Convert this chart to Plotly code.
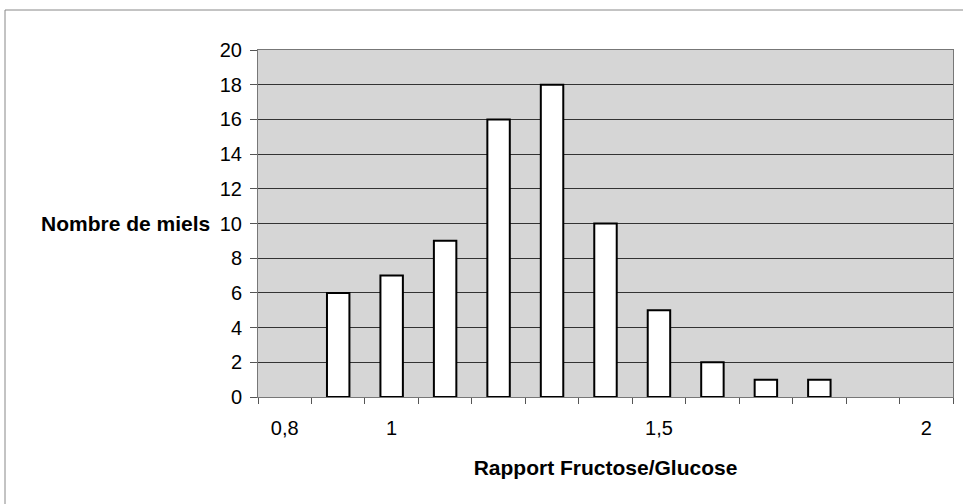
import plotly.graph_objects as go

categories = ["0,8", "0,9", "1", "1,1", "1,2", "1,3", "1,4", "1,5", "1,6", "1,7", "1,8", "1,9", "2"]
tick_labels = ["0,8", "", "1", "", "", "", "", "1,5", "", "", "", "", "2"]
counts = [0, 6, 7, 9, 16, 18, 10, 5, 2, 1, 1, 0, 0]
y_ticks = [0, 2, 4, 6, 8, 10, 12, 14, 16, 18, 20]

FONT = "Liberation Sans, Arial, sans-serif"

fig = go.Figure(go.Bar(
    x=categories, y=[c if c > 0 else None for c in counts],
    marker=dict(color="white", line=dict(color="black", width=2)),
    width=0.42,
))

fig.update_layout(
    width=963, height=504,
    margin=dict(l=258, r=10, t=50, b=107),
    paper_bgcolor="white", plot_bgcolor="#d6d6d6",
    font=dict(family=FONT, size=20, color="black"),
    showlegend=False,
    xaxis=dict(
        type="category", tickmode="array", tickvals=categories, ticktext=tick_labels,
        tickson="boundaries", ticks="outside", ticklen=6, tickcolor="#555",
        showgrid=False, showline=True, linecolor="#777", linewidth=1, mirror=True,
        tickfont=dict(size=20), ticklabelstandoff=13,
        title=dict(text="<b>Rapport Fructose/Glucose</b>", font=dict(size=21), standoff=22),
    ),
    yaxis=dict(
        range=[0, 20], tickvals=y_ticks, ticks="outside", ticklen=7, tickcolor="#555",
        showgrid=True, gridcolor="#333333", gridwidth=1,
        showline=True, linecolor="#777", linewidth=1, mirror=True,
        tickfont=dict(size=20), zeroline=False, ticklabelstandoff=4,
    ),
    annotations=[dict(
        text="<b>Nombre de miels</b>", xref="paper", yref="y", x=-0.066, y=10,
        xanchor="right", yanchor="middle", showarrow=False, font=dict(size=21),
    )],
    shapes=[dict(
        type="rect", xref="paper", yref="paper",
        x0=(5 - 258) / 695, x1=(975 - 258) / 695, y0=-0.5, y1=1 + 40 / 347,
        line=dict(color="#888", width=1), fillcolor="rgba(0,0,0,0)", layer="below",
    )],
)

fig.write_html("out.html")
